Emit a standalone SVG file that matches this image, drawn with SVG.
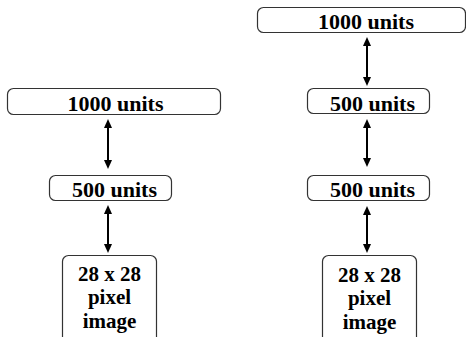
<svg xmlns="http://www.w3.org/2000/svg" width="466" height="337" viewBox="0 0 466 337">
<defs>
<style>
.box{fill:#fff;stroke:#333;stroke-width:1.2}
.t{font-family:"Liberation Serif","Times New Roman",serif;font-weight:bold;font-size:22px;fill:#000;text-anchor:middle}
.s{font-size:21px}
.c{stroke:#000;stroke-width:2;fill:none}
</style>
<marker id="ah" viewBox="0 0 9 8" refX="1" refY="4" markerWidth="9" markerHeight="8" markerUnits="userSpaceOnUse" orient="auto-start-reverse">
<path d="M0,0 L9,4 L0,8 z" fill="#000"/>
</marker>
</defs>
<rect width="466" height="337" fill="#fff"/>
<g id="connectors">
<line class="c" x1="108" y1="127" x2="108" y2="161" marker-start="url(#ah)" marker-end="url(#ah)"/>
<line class="c" x1="108" y1="213" x2="108" y2="245" marker-start="url(#ah)" marker-end="url(#ah)"/>
<line class="c" x1="367" y1="45" x2="367" y2="78" marker-start="url(#ah)" marker-end="url(#ah)"/>
<line class="c" x1="367" y1="127" x2="367" y2="159" marker-start="url(#ah)" marker-end="url(#ah)"/>
<line class="c" x1="367" y1="214" x2="367" y2="245" marker-start="url(#ah)" marker-end="url(#ah)"/>
</g>
<g id="left-1000">
<rect class="box" x="7.5" y="88.5" width="213" height="26" rx="6"/>
<text class="t" x="115.5" y="110.5">1000 units</text>
</g>
<g id="left-500">
<rect class="box" x="49.5" y="175.5" width="122" height="25" rx="6"/>
<text class="t" x="114.5" y="196.5">500 units</text>
</g>
<g id="left-image">
<rect class="box" x="62.5" y="255.5" width="94" height="100" rx="6"/>
<text class="t s" x="109.5" y="280.5">28 x 28</text>
<text class="t s" x="109.5" y="304">pixel</text>
<text class="t s" x="109.5" y="327.5">image</text>
</g>
<g id="right-1000">
<rect class="box" x="257.5" y="7.5" width="208" height="25" rx="6"/>
<text class="t" x="366" y="29">1000 units</text>
</g>
<g id="right-500a">
<rect class="box" x="307.5" y="88.5" width="122" height="25" rx="6"/>
<text class="t" x="372.5" y="110.5">500 units</text>
</g>
<g id="right-500b">
<rect class="box" x="307.5" y="175.5" width="122" height="25" rx="6"/>
<text class="t" x="372.5" y="197">500 units</text>
</g>
<g id="right-image">
<rect class="box" x="322.5" y="255.5" width="94" height="100" rx="6"/>
<text class="t s" x="369.5" y="281.5">28 x 28</text>
<text class="t s" x="369.5" y="305">pixel</text>
<text class="t s" x="369.5" y="328.5">image</text>
</g>
</svg>
